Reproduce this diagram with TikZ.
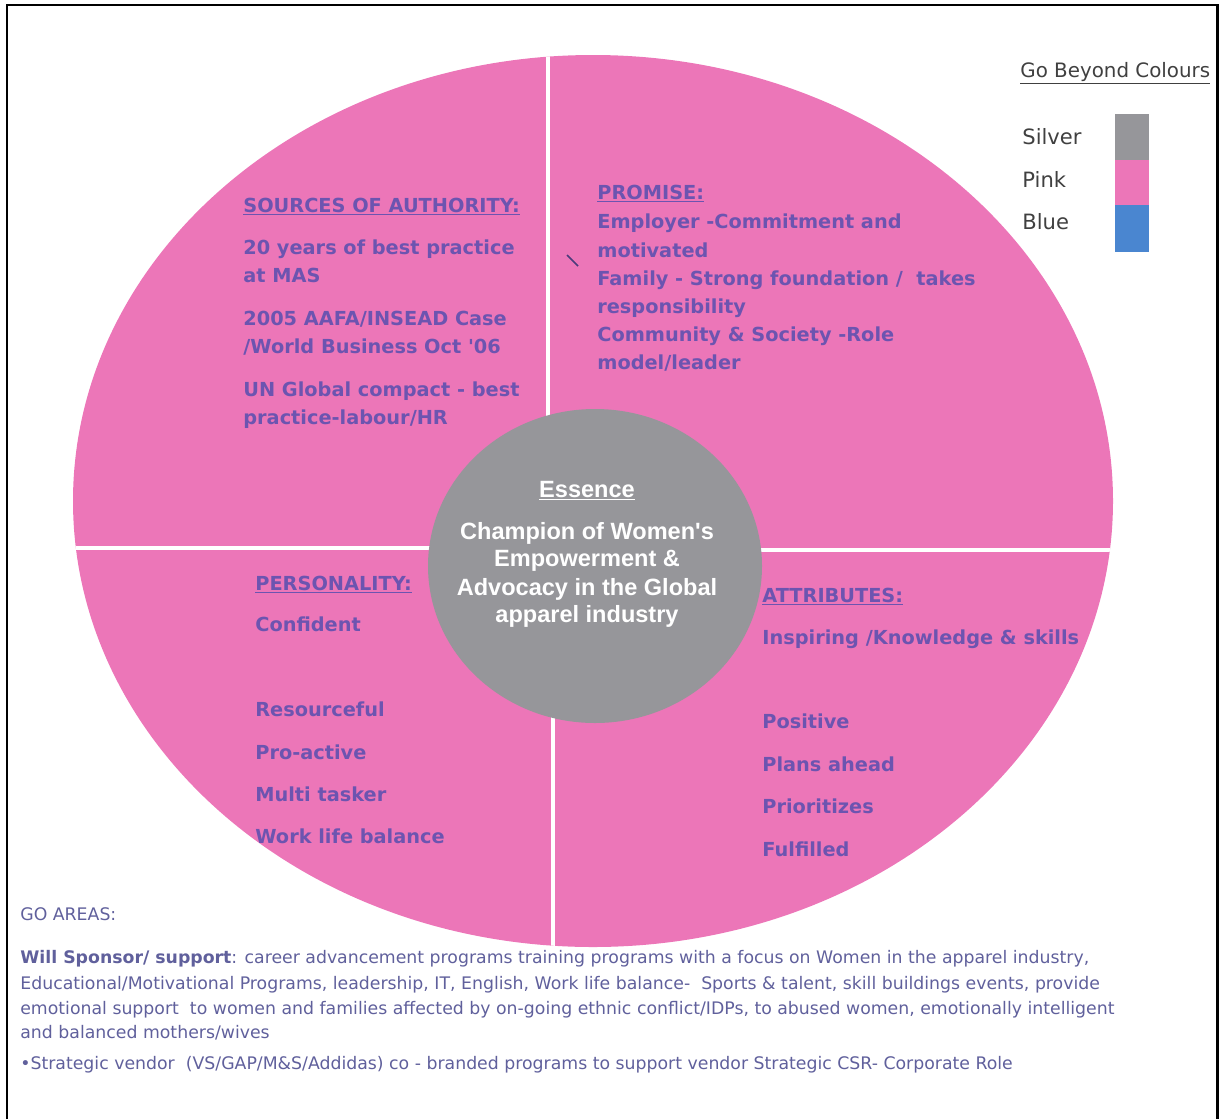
\documentclass[tikz,border=0pt]{standalone}
\usepackage{fontspec}
\setmainfont{DejaVu Sans}
\newfontfamily\essencefont{Liberation Sans}
\usepackage{tikz}
\usetikzlibrary{positioning}
\usepackage{xcolor}
\definecolor{gbpink}{RGB}{236,118,184}
\definecolor{gbsilver}{RGB}{150,150,154}
\definecolor{gbblue}{RGB}{74,134,208}
\definecolor{gbtext}{RGB}{108,84,176}
\definecolor{gbfoot}{RGB}{96,96,156}
\definecolor{gbdark}{RGB}{64,64,64}
\tikzstyle{quadtext} = [anchor=base west, inner sep=0pt, text=gbtext, font=\fontsize{11}{13}\selectfont\bfseries]
\tikzstyle{essence} = [anchor=base, inner sep=0pt, text=white, font=\fontsize{13.4}{16}\selectfont\essencefont\bfseries]
\tikzstyle{legend} = [anchor=base west, inner sep=0pt, text=gbdark, font=\fontsize{12}{14}\selectfont]
\tikzstyle{foot} = [anchor=base west, inner sep=0pt, text=gbfoot, font=\fontsize{9.85}{12}\selectfont]
\tikzstyle{divider} = [white, line width=2.6pt]

\begin{document}
\begin{tikzpicture}[x=0.02cm, y=-0.02cm]
    \useasboundingbox (0,0) rectangle (1219,1119);

    % Frame
    \draw[line width=1.7pt] (7,1119) -- (7,5) -- (1217,5) -- (1217,1119);

    % Pink ring and dividers
    \fill[gbpink] (593,501) ellipse [x radius=520, y radius=446];
    \begin{scope}
        \clip (593,501) ellipse [x radius=520, y radius=446];
        \draw[divider] (548,40) -- (548,500);
        \draw[divider] (553,600) -- (553,960);
        \draw[divider] (60,548) -- (600,548);
        \draw[divider] (600,550) -- (1130,550);
    \end{scope}

    % Essence
    \fill[gbsilver] (595,566) ellipse [x radius=167, y radius=157];
    \node[essence] (esshead) at (587,497) {\underline{Essence}};
    \node[essence] (ess1) at (587,539) {Champion of Women's};
    \node[essence] (ess2) at (587,566) {Empowerment \&};
    \node[essence] (ess3) at (587,595) {Advocacy in the Global};
    \node[essence] (ess4) at (587,622) {apparel industry};

    % Sources of authority
    \node[quadtext] (srchead) at (243,212) {\underline{SOURCES OF AUTHORITY:}};
    \foreach \yy/\txt [count=\i] in {254/{20 years of best practice}, 282/{at MAS},
        325/{2005 AAFA/INSEAD Case}, 353/{/World Business Oct \textquotesingle 06},
        396/{UN Global compact - best}, 424/{practice-labour/HR}}
        \node[quadtext] (src\i) at (243,\yy) {\txt};

    % Promise
    \node[quadtext] (promhead) at (597,199) {\underline{PROMISE:}};
    \foreach \yy/\txt [count=\i] in {228/{Employer -Commitment and}, 257/{motivated},
        285/{Family - Strong foundation /\ \ takes}, 313/{responsibility},
        341/{Community \& Society -Role}, 369/{model/leader}}
        \node[quadtext] (prom\i) at (597,\yy) {\txt};
    \draw[gbtext!70!black, line width=0.9pt] (567,255) -- (578,266);

    % Personality
    \node[quadtext] (perhead) at (255,590) {\underline{PERSONALITY:}};
    \foreach \yy/\txt [count=\i] in {631/{Confident}, 716/{Resourceful},
        759/{Pro-active}, 801/{Multi tasker}, 843/{Work life balance}}
        \node[quadtext] (per\i) at (255,\yy) {\txt};

    % Attributes
    \node[quadtext] (atthead) at (762,602) {\underline{ATTRIBUTES:}};
    \foreach \yy/\txt [count=\i] in {644/{Inspiring /Knowledge \& skills}, 728/{Positive},
        771/{Plans ahead}, 813/{Prioritizes}, 856/{Fulfilled}}
        \node[quadtext] (att\i) at (762,\yy) {\txt};

    % Legend
    \node[legend, font=\fontsize{11.3}{14}\selectfont] (leghead) at (1020,77) {\underline{Go Beyond Colours}};
    \node[legend] (silver) at (1022,144) {Silver};
    \node[legend] (pink) at (1022,187) {Pink};
    \node[legend] (blue) at (1022,229) {Blue};
    \fill[gbsilver] (1115,114) rectangle (1149,160);
    \fill[gbpink] (1115,160) rectangle (1149,205);
    \fill[gbblue] (1115,205) rectangle (1149,252);

    % Go areas
    \node[foot] (gohead) at (20,920) {GO AREAS:};
    \node[foot] (go1) at (20,963) {\textbf{Will Sponsor/ support}: career advancement programs training programs with a focus on Women in the apparel industry,};
    \node[foot] (go2) at (20,989) {Educational/Motivational Programs, leadership, IT, English, Work life balance-\ \ Sports \& talent, skill buildings events, provide};
    \node[foot] (go3) at (20,1014) {emotional support\ \ to women and families affected by on-going ethnic conflict/IDPs, to abused women, emotionally intelligent};
    \node[foot] (go4) at (20,1038) {and balanced mothers/wives};
    \node[foot] (go5) at (20,1069) {\textbullet Strategic vendor\ \ (VS/GAP/M\&S/Addidas) co - branded programs to support vendor Strategic CSR- Corporate Role};
\end{tikzpicture}
\end{document}
